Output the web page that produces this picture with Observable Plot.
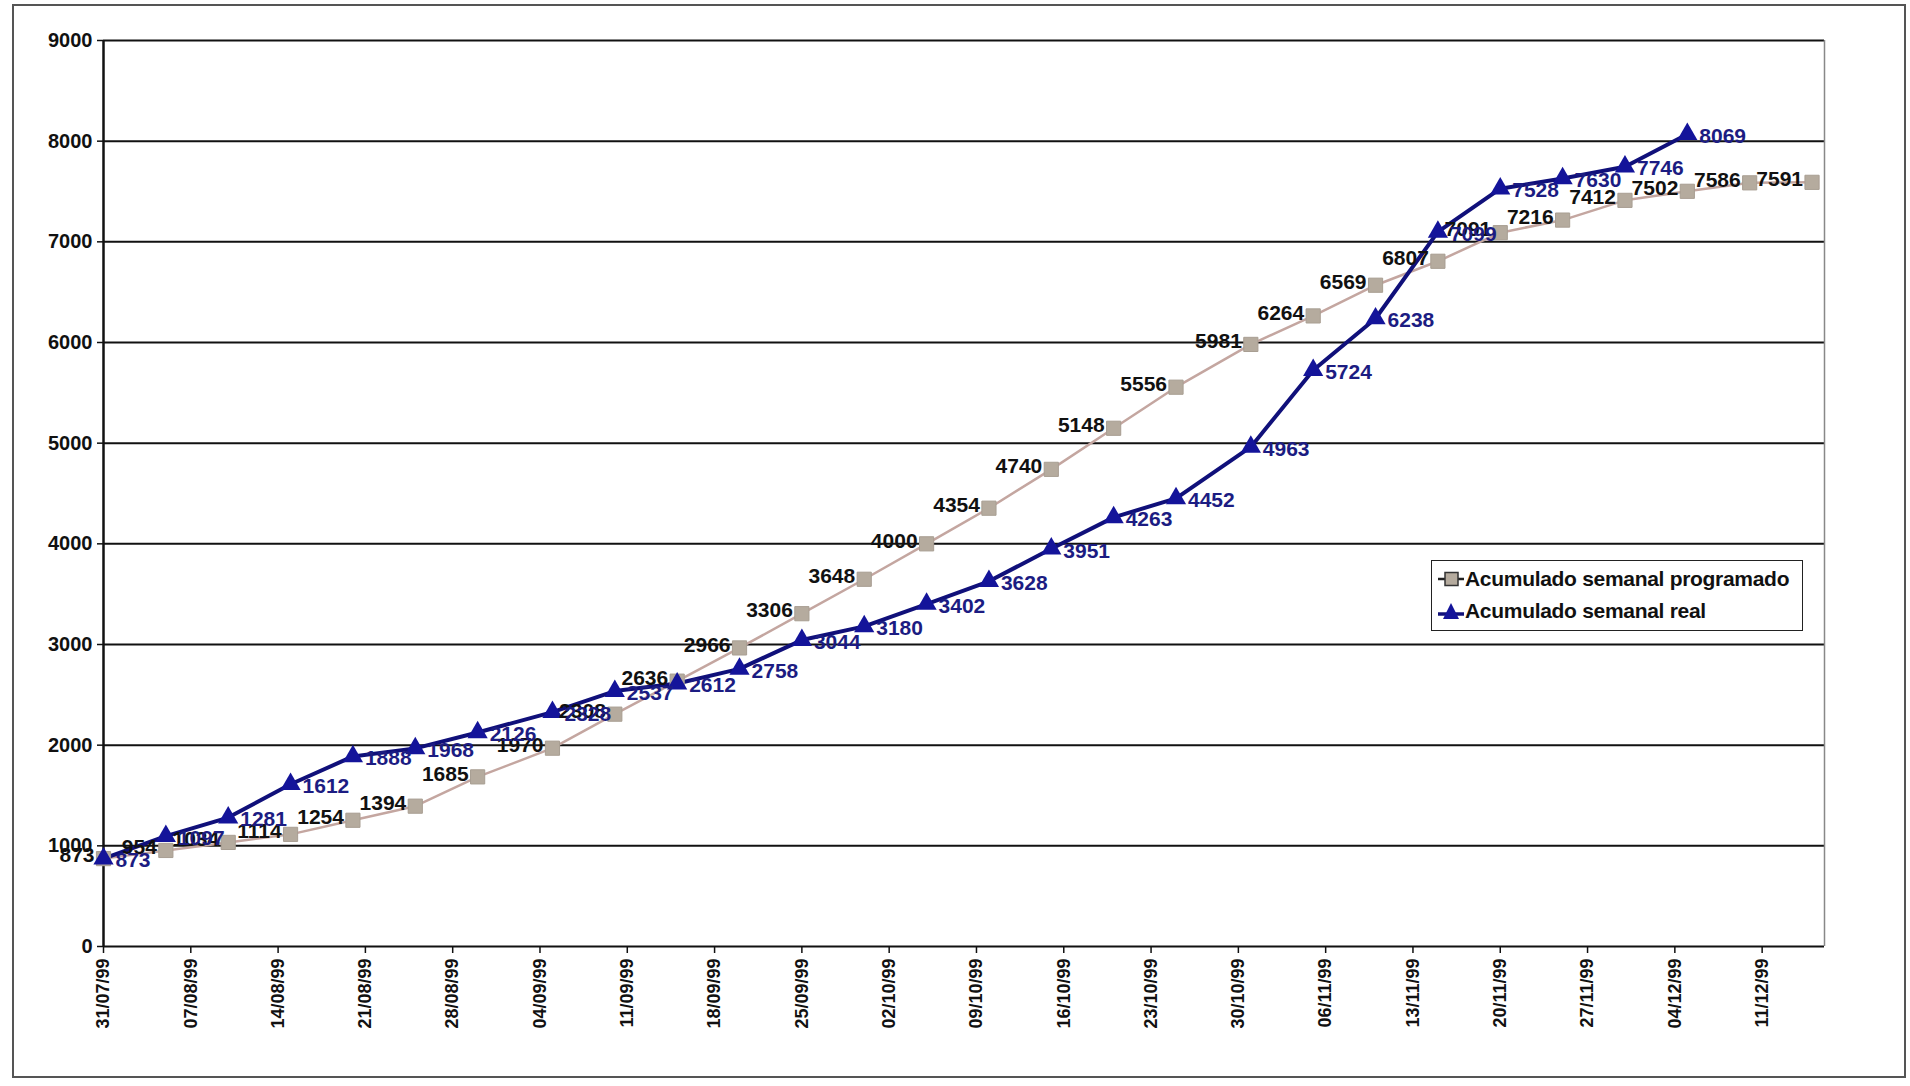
<!DOCTYPE html>
<html>
<head>
<meta charset="utf-8">
<script src="https://cdn.jsdelivr.net/npm/d3@7"></script>
<script src="https://cdn.jsdelivr.net/npm/@observablehq/plot@0.6"></script>
<style>
  html, body { margin: 0; padding: 0; background: #fff; }
  #wrap { position: relative; width: 1910px; height: 1086px; overflow: hidden; font-family: "Liberation Sans", Arial, sans-serif; }
  #frame { position: absolute; left: 12px; top: 4px; width: 1894px; height: 1074px; border: 2px solid #555; box-sizing: border-box; pointer-events: none; }
  #legend { position: absolute; left: 1431px; top: 560px; width: 372px; height: 71px; border: 1.5px solid #222; background: #fff; box-sizing: border-box; font-weight: bold; font-size: 21px; color: #111; }
  #legend .row { position: absolute; left: 6px; height: 28px; display: flex; align-items: center; white-space: nowrap; letter-spacing: -0.3px; }
  #legend svg { margin-right: 1px; }
</style>
</head>
<body>
<div id="wrap">
  <div id="chart"></div>
  <div id="frame"></div>
  <div id="legend">
    <div class="row" style="top:4px">
      <svg width="26" height="20"><line x1="0" y1="10" x2="26" y2="10" stroke="#222" stroke-width="2.5"/><rect x="7" y="3.5" width="13" height="13" fill="#b5ab9e" stroke="#333" stroke-width="1.5"/></svg>
      <span>Acumulado semanal programado</span>
    </div>
    <div class="row" style="top:36px">
      <svg width="26" height="20"><line x1="0" y1="13" x2="26" y2="13" stroke="#10107a" stroke-width="3.5"/><path d="M13,2 L21,18 L5,18 Z" fill="#14149a"/></svg>
      <span>Acumulado semanal real</span>
    </div>
  </div>
</div>
<script>
// ---- data ----
const dates = ["1999-07-31","1999-08-05","1999-08-10","1999-08-15","1999-08-20","1999-08-25","1999-08-30",
  "1999-09-05","1999-09-10","1999-09-15","1999-09-20","1999-09-25","1999-09-30",
  "1999-10-05","1999-10-10","1999-10-15","1999-10-20","1999-10-25","1999-10-31",
  "1999-11-05","1999-11-10","1999-11-15","1999-11-20","1999-11-25","1999-11-30",
  "1999-12-05","1999-12-10","1999-12-15"];
const programado = [873, 954, 1034, 1114, 1254, 1394, 1685, 1970, 2308, 2636, 2966, 3306, 3648, 4000,
  4354, 4740, 5148, 5556, 5981, 6264, 6569, 6807, 7091, 7216, 7412, 7502, 7586, 7591];
const real = [873, 1097, 1281, 1612, 1888, 1968, 2126, 2328, 2537, 2612, 2758, 3044, 3180, 3402,
  3628, 3951, 4263, 4452, 4963, 5724, 6238, 7099, 7528, 7630, 7746, 8069];
const xTickDates = ["1999-07-31","1999-08-07","1999-08-14","1999-08-21","1999-08-28","1999-09-04",
  "1999-09-11","1999-09-18","1999-09-25","1999-10-02","1999-10-09","1999-10-16","1999-10-23",
  "1999-10-30","1999-11-06","1999-11-13","1999-11-20","1999-11-27","1999-12-04","1999-12-11"];
const yTicks = [0, 1000, 2000, 3000, 4000, 5000, 6000, 7000, 8000, 9000];
const xDomain = ["1999-07-31", "1999-12-16"];

const parse = d3.utcParse("%Y-%m-%d");
const prog = programado.map((v, i) => ({date: parse(dates[i]), value: v}));
const realData = real.map((v, i) => ({date: parse(dates[i]), value: v}));
const ticks = xTickDates.map(parse);
const fmt = d3.utcFormat("%d/%m/%y");

const FONT = "Liberation Sans, Arial, sans-serif";
const progLine = "#c4a6a0";
const progFill = "#b5ab9e";
const realLine = "#10107a";
const realFill = "#14149a";

const chart = Plot.plot({
  width: 1910,
  height: 1086,
  marginLeft: 103,
  marginRight: 86,
  marginTop: 40,
  marginBottom: 140,
  style: {fontFamily: FONT, background: "transparent", overflow: "visible"},
  x: {type: "utc", domain: xDomain.map(parse)},
  y: {domain: [0, 9000]},
  marks: [
    Plot.ruleY(yTicks, {stroke: "#111", strokeWidth: 2}),
    Plot.ruleX([parse(xDomain[1])], {stroke: "#888", strokeWidth: 1.5}),
    Plot.ruleX([parse(xDomain[0])], {stroke: "#111", strokeWidth: 2.5}),
    Plot.axisY({ticks: yTicks, tickSize: 6, tickPadding: 5, tickFormat: d => String(d),
      fontSize: 20, fontWeight: "bold", fill: "#111", stroke: "#111", strokeWidth: 1.5, label: null}),
    Plot.axisX({ticks: ticks, tickSize: 7, tickPadding: 5, tickFormat: fmt, tickRotate: -90,
      fontSize: 18, fontWeight: "bold", fill: "#111", stroke: "#111", strokeWidth: 1.5, label: null}),
    Plot.line(prog, {x: "date", y: "value", stroke: progLine, strokeWidth: 2.5}),
    Plot.line(realData, {x: "date", y: "value", stroke: realLine, strokeWidth: 4}),
    Plot.dot(prog, {x: "date", y: "value", symbol: "square", r: 8, fill: progFill, stroke: "#a89e92", strokeWidth: 1}),
    Plot.dot(realData, {x: "date", y: "value", symbol: "triangle", r: 7.5, fill: realFill}),
    Plot.text(prog, {x: "date", y: "value", text: d => String(d.value), textAnchor: "end", dx: -9, dy: -3,
      fontSize: 21, fontWeight: "bold", fill: "#111"}),
    Plot.text(realData, {x: "date", y: "value", text: d => String(d.value), textAnchor: "start", dx: 12, dy: 2,
      fontSize: 21, fontWeight: "bold", fill: "#1c1c82"})
  ]
});
document.getElementById("chart").appendChild(chart);
</script>
</body>
</html>
